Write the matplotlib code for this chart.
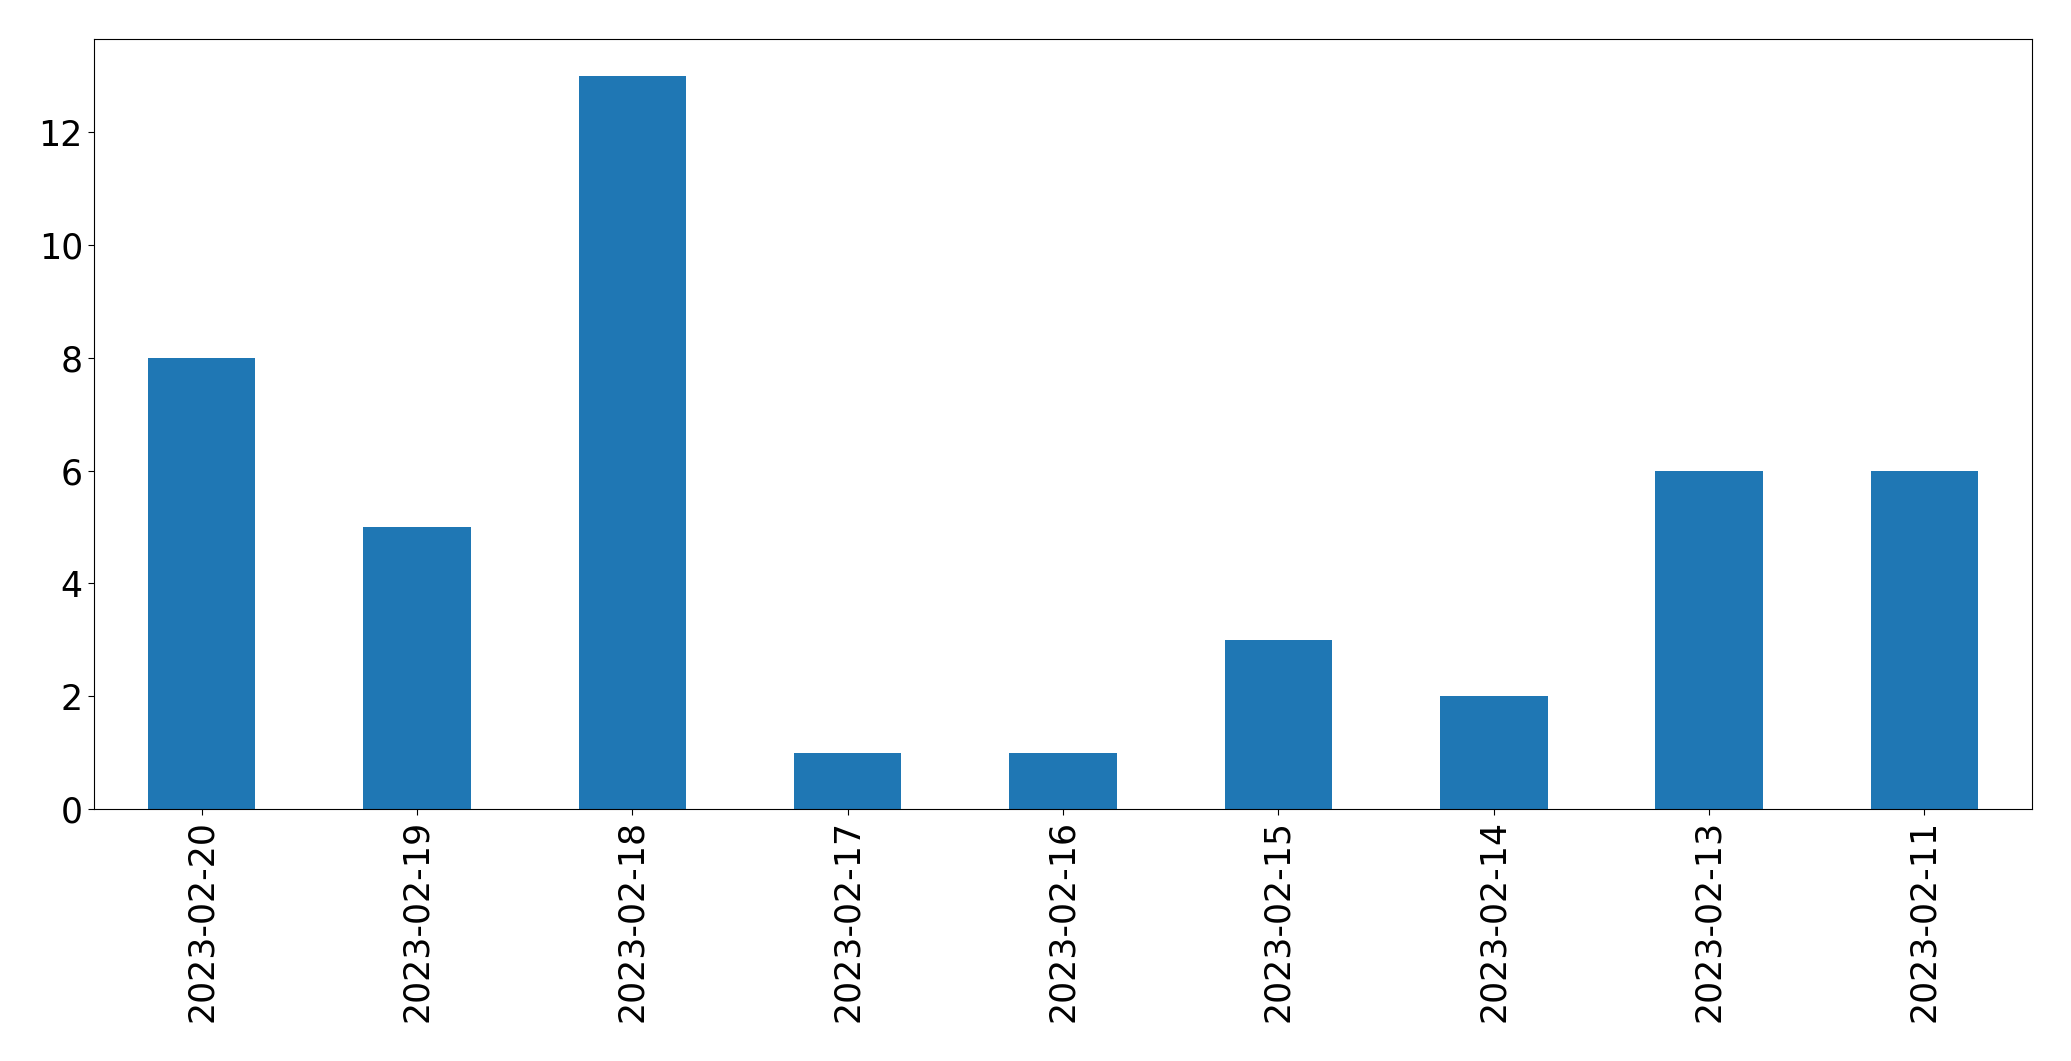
import matplotlib
matplotlib.use("Agg")
import matplotlib.pyplot as plt
import pandas as pd

dates = ["2023-02-20", "2023-02-19", "2023-02-18", "2023-02-17", "2023-02-16",
         "2023-02-15", "2023-02-14", "2023-02-13", "2023-02-11"]
counts = [8, 5, 13, 1, 1, 3, 2, 6, 6]

series = pd.Series(counts, index=dates)

fig = plt.figure(figsize=(20.71, 10.61), dpi=100)
ax = fig.add_axes([94 / 2071, 1 - 809 / 1061, (2032 - 94) / 2071, (809 - 39) / 1061])
series.plot(kind="bar", ax=ax, color="#1f77b4")

ax.tick_params(axis="both", labelsize=25, length=4.5)
plt.setp(ax.get_xticklabels(), rotation=90)

fig.savefig("out.png", dpi=100)
plt.close(fig)
